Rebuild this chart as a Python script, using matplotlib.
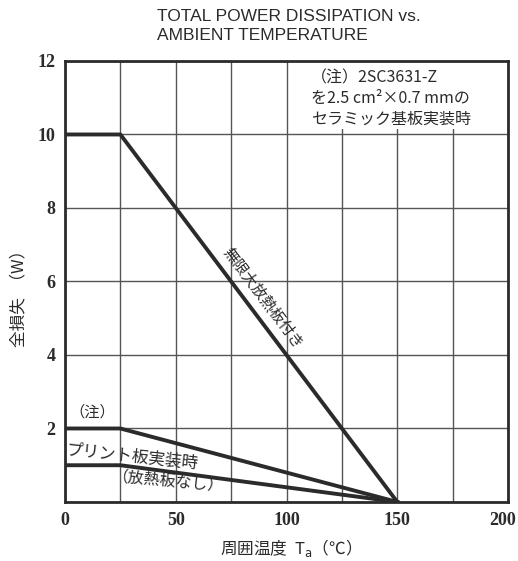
import numpy as np
import matplotlib.pyplot as plt
from matplotlib.patches import Rectangle
from matplotlib.transforms import ScaledTranslation

plt.rcParams['font.family'] = ['Noto Sans CJK JP', 'DejaVu Sans']

# derating curves (Ta in degC, Pt in W)
ta_heatsink = [0, 25, 150]
pt_heatsink = [10, 10, 0]
ta_ceramic = [0, 25, 150]
pt_ceramic = [2, 2, 0]
ta_pcb = [0, 25, 150]
pt_pcb = [1, 1, 0]

x_ticks = [0, 25, 50, 75, 100, 125, 150, 175, 200]
x_labels = ['0', '', '50', '', '100', '', '150', '', '200']
y_ticks = [0, 2, 4, 6, 8, 10, 12]
y_labels = ['', '2', '4', '6', '8', '10', '12']

ink = '#2b2b2b'

fig = plt.figure(figsize=(5.18, 5.61), dpi=100)
ax = fig.add_axes([0.1255, 0.1052, 0.8553, 0.7861])

ax.set_xlim(0, 200)
ax.set_ylim(0, 12)
ax.set_xticks(x_ticks)
ax.set_xticklabels(x_labels)
ax.set_yticks(y_ticks)
ax.set_yticklabels(y_labels)
ax.tick_params(length=0, pad=7, colors=ink)
for lab in ax.get_xticklabels() + ax.get_yticklabels():
    lab.set_family('Liberation Serif')
    lab.set_fontweight('bold')
    lab.set_fontsize(13)
# last x label sits against the figure edge
last = ax.get_xticklabels()[-1]
last.set_transform(last.get_transform() + ScaledTranslation(-0.05, 0, fig.dpi_scale_trans))

ax.set_axisbelow(True)
ax.grid(True, color='#555555', lw=1.0)
for sp in ax.spines.values():
    sp.set_linewidth(2.0)
    sp.set_color(ink)

# white patch behind the note, hiding the grid in the upper right
ax.add_patch(Rectangle((0.505, 0.845), 0.495, 0.155, transform=ax.transAxes,
                       facecolor='white', edgecolor='none', zorder=1))

ax.plot(ta_heatsink, pt_heatsink, color=ink, lw=2.8, zorder=3)
ax.plot(ta_ceramic, pt_ceramic, color=ink, lw=2.8, zorder=3)
ax.plot(ta_pcb, pt_pcb, color=ink, lw=2.8, zorder=3)

# label along the heat sink line, offset to its upper right
p0 = ax.transData.transform((ta_heatsink[1], pt_heatsink[1]))
p1 = ax.transData.transform((ta_heatsink[2], pt_heatsink[2]))
ang = np.degrees(np.arctan2(p1[1] - p0[1], p1[0] - p0[0]))
frac = 0.47
xm = ta_heatsink[1] + frac * (ta_heatsink[2] - ta_heatsink[1])
ym = pt_heatsink[1] + frac * (pt_heatsink[2] - pt_heatsink[1])
nrm = np.array([-np.sin(np.radians(ang)), np.cos(np.radians(ang))])
off = 16 * nrm
ax.annotate('無限大放熱板付き', xy=(xm, ym), xytext=(off[0], off[1]),
            textcoords='offset pixels', rotation=ang, rotation_mode='anchor',
            ha='center', va='center', fontsize=11, color=ink)

ax.text(12.2, 2.45, '（注）', ha='center', va='center', fontsize=11, color=ink)
ax.text(30.5, 1.22, 'プリント板実装時', rotation=-6, rotation_mode='anchor',
        ha='center', va='center', fontsize=12, color=ink)
ax.text(46.5, 0.52, '（放熱板なし）', rotation=-5, rotation_mode='anchor',
        ha='center', va='center', fontsize=11.5, color=ink)

ax.text(111, 11.78, '（注）2SC3631-Z\nを2.5 cm²×0.7 mmの\nセラミック基板実装時',
        ha='left', va='top', fontsize=11.5, color=ink, linespacing=1.3, zorder=4)

ax.set_xlabel('周囲温度  T$_\\mathrm{a}$（℃）', fontsize=12, color=ink, labelpad=6)
ax.set_ylabel('全損失  （W）', fontsize=12, color=ink)
ax.yaxis.set_label_coords(-0.085, 0.47)

fig.text(157 / 518, 1 - 9 / 561, 'TOTAL POWER DISSIPATION vs.\nAMBIENT TEMPERATURE',
         ha='left', va='top', fontsize=12.5, color=ink, family='Liberation Sans',
         linespacing=1.3)

fig.savefig('out.png', dpi=100, facecolor='white')
